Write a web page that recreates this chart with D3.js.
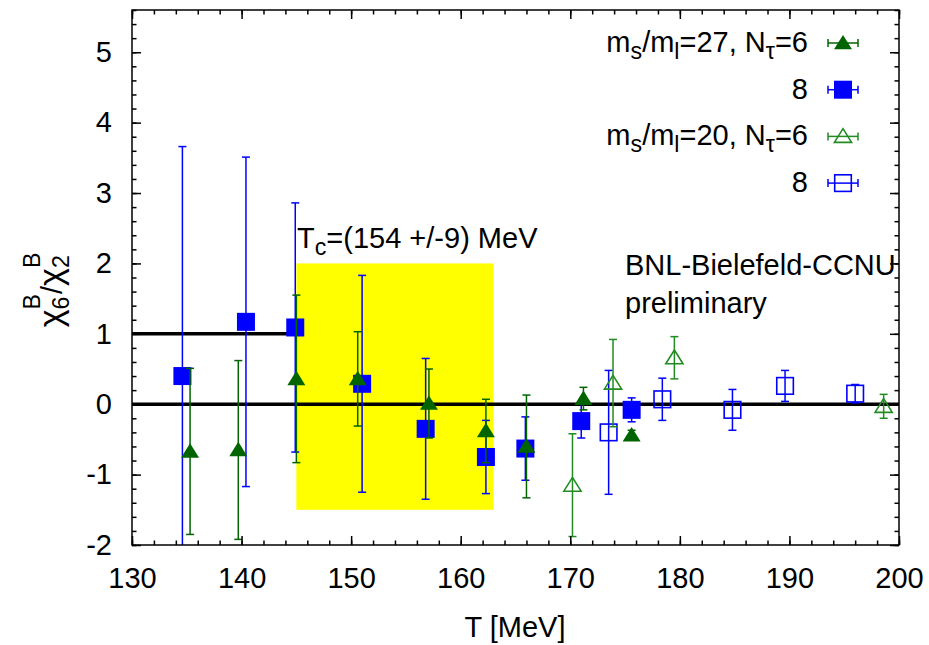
<!DOCTYPE html>
<html>
<head>
<meta charset="utf-8">
<script src="https://cdn.jsdelivr.net/npm/d3@7"></script>
<style>
  body { margin: 0; background: #fff; }
  text { font-family: "Liberation Sans", Arial, Helvetica, sans-serif; fill: #000; }
</style>
</head>
<body>
<div id="chart"></div>
<script>
// ms/ml=27, Ntau=6  (filled green triangles)
var tA = [135.3, 139.7, 145.0, 150.6, 157.1, 162.3, 166.0, 171.2, 175.6];
var yA = [-0.67, -0.65, 0.36, 0.36, 0.01, -0.38, -0.60, 0.08, -0.44];
var eA = [1.18, 1.27, 1.19, 0.67, 0.49, 0.45, 0.73, 0.16, 0.07];

// ms/ml=27, Ntau=8  (filled blue squares)
var tB = [134.6, 140.4, 144.9, 151.0, 156.8, 162.3, 165.9, 171.0, 175.6];
var yB = [0.40, 1.17, 1.09, 0.29, -0.35, -0.75, -0.63, -0.24, -0.08];
var eB = [3.26, 2.34, 1.77, 1.54, 1.00, 0.52, 0.45, 0.24, 0.17];

// ms/ml=20, Ntau=6  (open green triangles)
var tC = [170.2, 173.9, 179.5, 198.6];
var yC = [-1.15, 0.30, 0.66, -0.03];
var eC = [0.73, 0.62, 0.30, 0.17];

// ms/ml=20, Ntau=8  (open blue squares)
var tD = [173.5, 178.4, 184.8, 189.6, 196.0];
var yD = [-0.40, 0.07, -0.08, 0.26, 0.15];
var eD = [0.88, 0.30, 0.29, 0.22, 0.13];

var xTicks = [130, 140, 150, 160, 170, 180, 190, 200];
var yTicks = [-2, -1, 0, 1, 2, 3, 4, 5];

// Tc band and reference lines
var tcValue = 154, tcErr = 9;
var bandRange = [-1.5, 2];
var refLines = [[130, 200, 0], [130, 145, 1]];

var W = 929, H = 645;
var FS = 29;
var x = d3.scaleLinear().domain([130, 200]).range([132, 899]);
var y = d3.scaleLinear().domain([-2, 5.6]).range([545, 10]);

var svg = d3.select("#chart").append("svg")
  .attr("width", W).attr("height", H);

svg.append("clipPath").attr("id", "clip")
  .append("rect").attr("x", 132).attr("y", 10).attr("width", 767).attr("height", 535);

var plot = svg.append("g").attr("clip-path", "url(#clip)");

// yellow Tc band
plot.append("rect")
  .attr("x", x(tcValue - tcErr)).attr("y", y(bandRange[1]))
  .attr("width", x(tcValue + tcErr) - x(tcValue - tcErr))
  .attr("height", y(bandRange[0]) - y(bandRange[1]))
  .attr("fill", "#ffff00");

plot.selectAll("line.ref").data(refLines).enter().append("line")
  .attr("x1", function(d) { return x(d[0]); })
  .attr("x2", function(d) { return x(d[1]); })
  .attr("y1", function(d) { return y(d[2]); })
  .attr("y2", function(d) { return y(d[2]); })
  .attr("stroke", "#000").attr("stroke-width", 3.5);

// markers
function triPath(s) {
  return "M0," + (-s * 0.9) + "L" + s + "," + (s * 0.7) + "L" + (-s) + "," + (s * 0.7) + "Z";
}
function drawMarker(g, kind, color) {
  if (kind == "tri") {
    g.append("path").attr("d", triPath(9)).attr("fill", color);
  } else if (kind == "otri") {
    g.append("path").attr("d", triPath(8.6)).attr("fill", "none")
      .attr("stroke", color).attr("stroke-width", 1.6);
  } else if (kind == "sq") {
    g.append("rect").attr("x", -9).attr("y", -9).attr("width", 18).attr("height", 18).attr("fill", color);
  } else {
    g.append("rect").attr("x", -8.3).attr("y", -8.3).attr("width", 16.6).attr("height", 16.6)
      .attr("fill", "none").attr("stroke", color).attr("stroke-width", 1.6);
  }
}

function drawSeries(ts, vs, es, kind, color) {
  var data = ts.map(function(t, i) { return { t: t, v: vs[i], e: es[i] }; });
  var g = plot.append("g");
  var pts = g.selectAll("g.pt").data(data).enter().append("g").attr("class", "pt");
  pts.append("line")
    .attr("x1", function(d) { return x(d.t); }).attr("x2", function(d) { return x(d.t); })
    .attr("y1", function(d) { return y(d.v - d.e); }).attr("y2", function(d) { return y(d.v + d.e); })
    .attr("stroke", color).attr("stroke-width", 1.5);
  [-1, 1].forEach(function(sgn) {
    pts.append("line")
      .attr("x1", function(d) { return x(d.t) - 4; }).attr("x2", function(d) { return x(d.t) + 4; })
      .attr("y1", function(d) { return y(d.v + sgn * d.e); }).attr("y2", function(d) { return y(d.v + sgn * d.e); })
      .attr("stroke", color).attr("stroke-width", 1.5);
  });
  pts.each(function(d) {
    var m = d3.select(this).append("g").attr("transform", "translate(" + x(d.t) + "," + y(d.v) + ")");
    drawMarker(m, kind, color);
  });
}

var darkGreen = "#006400", green = "#228b22", blue = "#0000ff";
drawSeries(tB, yB, eB, "sq", blue);
drawSeries(tA, yA, eA, "tri", darkGreen);
drawSeries(tD, yD, eD, "osq", blue);
drawSeries(tC, yC, eC, "otri", green);

// axes
var minorX = d3.range(130, 201, 2), minorY = d3.range(-2, 5.61, 0.2);
function styleAxis(g) {
  g.selectAll("path.domain").remove();
  g.selectAll("line").attr("stroke", "#000").attr("stroke-width", 1.5);
  g.selectAll("text").attr("font-size", FS).attr("font-family", null).attr("fill", "#000");
}
svg.append("g").attr("transform", "translate(0,545)")
  .call(d3.axisBottom(x).tickValues(xTicks).tickSizeInner(-9).tickSizeOuter(0).tickPadding(22)
    .tickFormat(function(d) { return String(d); }))
  .call(styleAxis);
svg.append("g").attr("transform", "translate(0,545)")
  .call(d3.axisBottom(x).tickValues(minorX).tickSize(-4.5).tickFormat(""))
  .call(styleAxis);
svg.append("g").attr("transform", "translate(0,10)")
  .call(d3.axisTop(x).tickValues(xTicks).tickSize(-9).tickFormat(""))
  .call(styleAxis);
svg.append("g").attr("transform", "translate(0,10)")
  .call(d3.axisTop(x).tickValues(minorX).tickSize(-4.5).tickFormat(""))
  .call(styleAxis);
svg.append("g").attr("transform", "translate(132,0)")
  .call(d3.axisLeft(y).tickValues(yTicks).tickSizeInner(-9).tickSizeOuter(0).tickPadding(20)
    .tickFormat(function(d) { return String(d); }))
  .call(styleAxis);
svg.append("g").attr("transform", "translate(132,0)")
  .call(d3.axisLeft(y).tickValues(minorY).tickSize(-4.5).tickFormat(""))
  .call(styleAxis);
svg.append("g").attr("transform", "translate(899,0)")
  .call(d3.axisRight(y).tickValues(yTicks).tickSize(-9).tickFormat(""))
  .call(styleAxis);
svg.append("g").attr("transform", "translate(899,0)")
  .call(d3.axisRight(y).tickValues(minorY).tickSize(-4.5).tickFormat(""))
  .call(styleAxis);

svg.append("rect").attr("x", 132).attr("y", 10).attr("width", 767).attr("height", 535)
  .attr("fill", "none").attr("stroke", "#000").attr("stroke-width", 1.5);

// rich text helper: segments [text, "sub"|"sup"|null]
function richText(g, segs, xPos, yPos, anchor) {
  var t = g.append("text").attr("x", xPos).attr("y", yPos)
    .attr("font-size", FS).attr("text-anchor", anchor || "start");
  var shift = 0;
  segs.forEach(function(s) {
    var target = s[1] == "sub" ? 7 : s[1] == "sup" ? -12 : 0;
    var sp = t.append("tspan").text(s[0]).attr("dy", target - shift);
    if (s[1]) sp.attr("font-size", FS * 0.8);
    shift = target;
  });
  return t;
}

// legend
var legendLabels = [
  [["m", null], ["s", "sub"], ["/m", null], ["l", "sub"], ["=27, N", null], ["τ", "sub"], ["=6", null]],
  [["8", null]],
  [["m", null], ["s", "sub"], ["/m", null], ["l", "sub"], ["=20, N", null], ["τ", "sub"], ["=6", null]],
  [["8", null]]
];
var legendKinds = ["tri", "sq", "otri", "osq"];
var legendColors = [darkGreen, blue, green, blue];
legendLabels.forEach(function(lab, i) {
  var base = 52 + i * 46.7;
  richText(svg, lab, 808, base, "end");
  var cy = base - 9, cx = 843;
  var lg = svg.append("g");
  lg.append("line").attr("x1", cx - 15).attr("x2", cx + 15).attr("y1", cy).attr("y2", cy)
    .attr("stroke", legendColors[i]).attr("stroke-width", 1.5);
  [-15, 15].forEach(function(dx) {
    lg.append("line").attr("x1", cx + dx).attr("x2", cx + dx).attr("y1", cy - 4).attr("y2", cy + 4)
      .attr("stroke", legendColors[i]).attr("stroke-width", 1.5);
  });
  var m = lg.append("g").attr("transform", "translate(" + cx + "," + cy + ")");
  drawMarker(m, legendKinds[i], legendColors[i]);
});

// annotations
richText(svg, [["T", null], ["c", "sub"], ["=(154 +/-9) MeV", null]], 297, 248);
svg.append("text").attr("x", 625).attr("y", 275).attr("font-size", FS).text("BNL-Bielefeld-CCNU");
svg.append("text").attr("x", 625).attr("y", 313).attr("font-size", FS).text("preliminary");

// axis titles
svg.append("text").attr("x", 515).attr("y", 637).attr("font-size", FS)
  .attr("text-anchor", "middle").text("T [MeV]");

var yl = svg.append("g").attr("transform", "translate(62,290) rotate(-90)");
var parts = [["χ", 0, 34], ["6", 7, FS * 0.8, "B"], ["/", 0, FS], ["χ", 0, 34], ["2", 7, FS * 0.8, "B"]];
var cursor = 0, items = [];
parts.forEach(function(p) {
  var t = yl.append("text").attr("x", cursor).attr("y", p[1]).attr("font-size", p[2]).text(p[0]);
  items.push(t);
  var w = t.node().getComputedTextLength();
  if (p[3]) {
    var s = yl.append("text").attr("x", cursor).attr("y", -22).attr("font-size", p[2]).text(p[3]);
    items.push(s);
    w = Math.max(w, s.node().getComputedTextLength());
  }
  cursor += w;
});
items.forEach(function(t) { t.attr("x", +t.attr("x") - cursor / 2); });
</script>
</body>
</html>
